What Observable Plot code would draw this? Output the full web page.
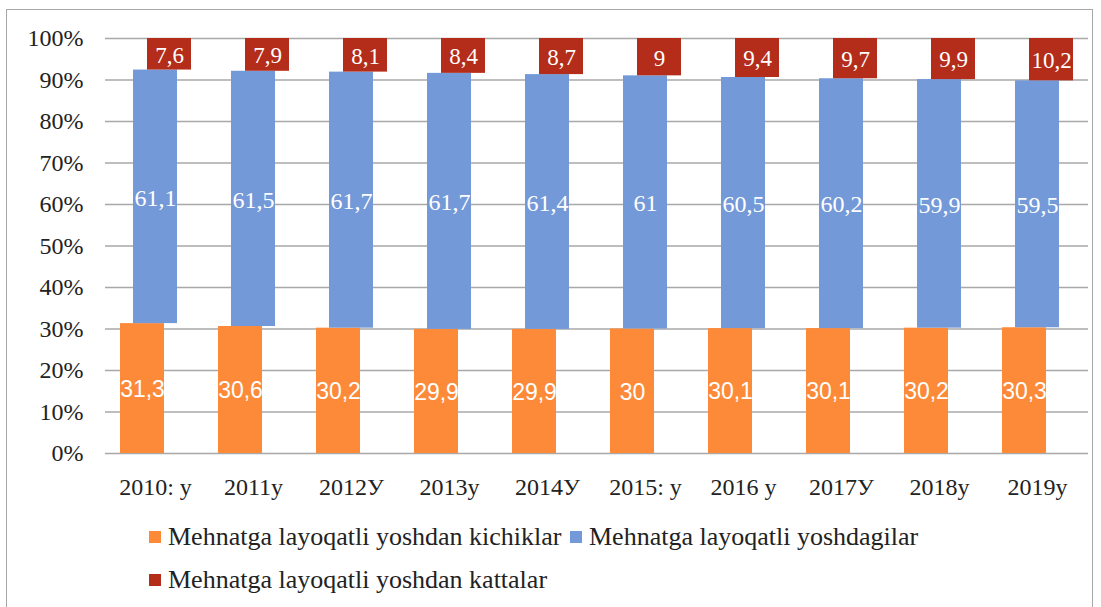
<!DOCTYPE html>
<html><head><meta charset="utf-8">
<script src="https://cdn.jsdelivr.net/npm/d3@7"></script>
<script src="https://cdn.jsdelivr.net/npm/@observablehq/plot@0.6"></script>
<style>
body{margin:0;background:#fff;width:1101px;height:607px;overflow:hidden;position:relative;font-family:"Liberation Serif","Times New Roman",serif;}
#frame{position:absolute;left:6px;top:9px;width:1087px;height:620px;border:1.5px solid #a8a8a8;box-sizing:border-box;}
#chart{position:absolute;left:0;top:0;}
.leg{position:absolute;font-family:"Liberation Serif","Times New Roman",serif;font-size:26px;color:#222;white-space:nowrap;display:flex;align-items:center;height:30px;}
.sw{display:inline-block;width:12px;height:12px;margin-right:7px;}
</style></head>
<body>
<div id="frame"></div>
<div id="chart"></div>
<div class="leg" style="left:149px;top:522px"><span class="sw" style="background:#fd8a39"></span>Mehnatga layoqatli yoshdan kichiklar</div>
<div class="leg" style="left:570px;top:522px"><span class="sw" style="background:#7499d8"></span>Mehnatga layoqatli yoshdagilar</div>
<div class="leg" style="left:149px;top:565px"><span class="sw" style="background:#b42c1a"></span>Mehnatga layoqatli yoshdan kattalar</div>
<script>
const years = ["2010: y","2011y","2012У","2013y","2014У","2015: y","2016 y","2017У","2018y","2019y"];
const younger = [31.3,30.6,30.2,29.9,29.9,30,30.1,30.1,30.2,30.3];
const working = [61.1,61.5,61.7,61.7,61.4,61,60.5,60.2,59.9,59.5];
const older = [7.6,7.9,8.1,8.4,8.7,9,9.4,9.7,9.9,10.2];
const seriesNames = ["Mehnatga layoqatli yoshdan kichiklar","Mehnatga layoqatli yoshdagilar","Mehnatga layoqatli yoshdan kattalar"];
const colors = ["#fd8a39","#7499d8","#b42c1a"];
const seriesVals = [younger, working, older];

const rows = [];
years.forEach((yr,i)=>{
  const tot = younger[i]+working[i]+older[i];
  let acc = 0;
  seriesVals.forEach((arr,s)=>{
    const v = arr[i];
    rows.push({year:yr, s, v, y1:acc/tot, y2:(acc+v)/tot});
    acc += v;
  });
});
const dxs = [-13,0,14];
const fmt = v => String(v).replace(".", ",");
const serif = "'Liberation Serif', 'Times New Roman', serif";
const marks = [
  Plot.ruleY(d3.range(0,1.01,0.1), {stroke:"#a9a9a9", strokeWidth:1.5}),
];
const lblSize = [23, 24, 23];
[0,1,2].forEach(s=>{
  const d = rows.filter(r=>r.s===s);
  marks.push(Plot.rectY(d, {x:"year", y1:"y1", y2:"y2", fill:colors[s], dx:dxs[s]}));
  marks.push(Plot.text(d, {x:"year", y:r=>(r.y1+r.y2)/2, text:r=>fmt(r.v), dx:dxs[s], dy:1, fill:"white",
    fontSize: lblSize[s], fontFamily: s===0?"'Liberation Sans', Arial, sans-serif":serif}));
});
marks.push(Plot.axisY({ticks:d3.range(0,1.01,0.1), tickFormat:d3.format(".0%"), tickSize:0, tickPadding:22, fontSize:24, fontFamily:serif, color:"#222"}));
marks.push(Plot.axisX({tickSize:0, tickPadding:24, fontSize:24, fontFamily:serif, color:"#222"}));

const chart = Plot.plot({
  width:1101, height:500,
  marginLeft:105, marginRight:13, marginTop:38, marginBottom:47,
  x:{domain:years, paddingInner:0.55, paddingOuter:0.275, label:null},
  y:{domain:[0,1], label:null},
  style:{background:"transparent", overflow:"visible"},
  marks
});
document.getElementById("chart").appendChild(chart);
</script>
</body></html>
